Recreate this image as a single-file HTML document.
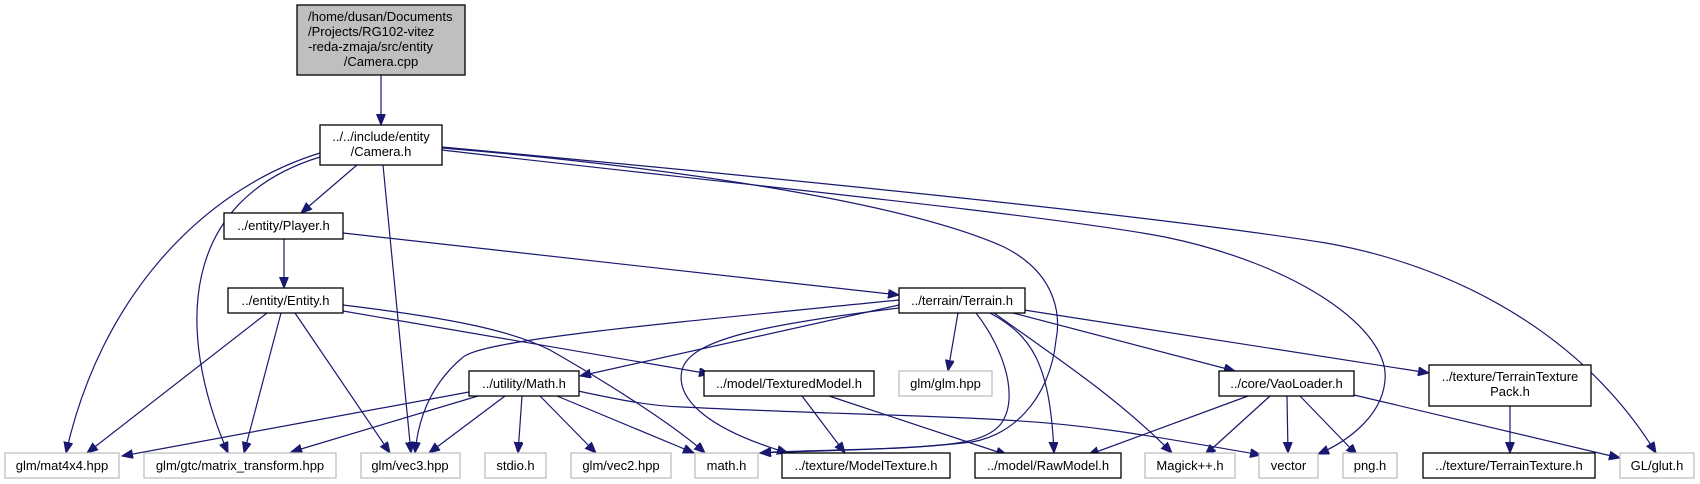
<!DOCTYPE html>
<html><head><meta charset="utf-8"><style>
html,body{margin:0;padding:0;background:#fff;}
svg{display:block;}
text{font-family:"Liberation Sans",Arial,sans-serif;font-size:13px;fill:#000;}
.e{fill:none;stroke:#191970;stroke-width:1.2;marker-end:url(#a);}
.b{fill:#fff;stroke:#000;stroke-width:1.3;}
.g{fill:#fff;stroke:#bfbfbf;stroke-width:1.3;}
</style></head><body>
<svg width="1700" height="484" viewBox="0 0 1700 484" xmlns="http://www.w3.org/2000/svg">
<defs><marker id="a" markerUnits="userSpaceOnUse" markerWidth="12" markerHeight="10" refX="11" refY="4.5" orient="auto"><path d="M0,0 L11,4.5 L0,9 Z" fill="#191970" stroke="#191970"/></marker></defs>

<!-- edges -->
<path class="e" d="M381,75 L381,125"/>
<path class="e" d="M357,165 L301,213"/>
<path class="e" d="M320,153 C200,190 100,300 66,453"/>
<path class="e" d="M320,157 C180,200 175,330 228,453"/>
<path class="e" d="M383,165 L411,453"/>
<path class="e" d="M442,148 C650,165 900,200 1004,247 C1060,275 1060,320 1056,340 C1050,400 1010,440 963,443 C900,450 800,451 760,453"/>
<path class="e" d="M442,150 C700,180 1050,215 1165,237 C1300,265 1390,330 1385,380 C1382,420 1340,445 1318,454"/>
<path class="e" d="M442,147 C800,180 1150,215 1326,243 C1450,265 1580,330 1656,453"/>
<path class="e" d="M284,239 L284,288"/>
<path class="e" d="M343,233 L899,295"/>
<path class="e" d="M267,313 L87,453"/>
<path class="e" d="M281,313 L244,453"/>
<path class="e" d="M295,313 L390,453"/>
<path class="e" d="M343,305 C450,318 510,330 550,350 C620,390 680,430 705,453"/>
<path class="e" d="M343,311 L710,374"/>
<path class="e" d="M899,305 L580,376"/>
<path class="e" d="M899,300 C650,325 480,340 462,358 C430,385 418,420 415,453"/>
<path class="e" d="M899,308 C760,325 690,340 682,370 C675,400 710,430 788,453"/>
<path class="e" d="M976,313 C1005,350 1020,400 1000,425 C985,442 955,445 900,448 C820,451 780,451 760,453"/>
<path class="e" d="M958,313 L948,371"/>
<path class="e" d="M990,313 C1030,335 1050,360 1054,453"/>
<path class="e" d="M994,313 C1060,360 1120,400 1172,453"/>
<path class="e" d="M1013,313 L1235,371"/>
<path class="e" d="M1024,310 L1429,373"/>
<path class="e" d="M469,392 L122,456"/>
<path class="e" d="M478,396 L291,452"/>
<path class="e" d="M505,396 L429,453"/>
<path class="e" d="M522,396 L518,453"/>
<path class="e" d="M540,396 L596,453"/>
<path class="e" d="M557,396 L694,453"/>
<path class="e" d="M578,391 C620,400 650,406 682,407 C800,413 950,416 1004,420 C1080,424 1130,432 1261,455"/>
<path class="e" d="M802,396 L845,453"/>
<path class="e" d="M829,396 L1007,455"/>
<path class="e" d="M1248,396 L1088,455"/>
<path class="e" d="M1270,396 L1205,455"/>
<path class="e" d="M1287,396 L1288,453"/>
<path class="e" d="M1300,396 L1357,455"/>
<path class="e" d="M1354,395 L1620,458"/>
<path class="e" d="M1510,406 L1510,453"/>

<!-- nodes -->
<rect x="297" y="5" width="168" height="70" fill="#bfbfbf" stroke="#000" stroke-width="1.3"/>
<text x="308" y="21">/home/dusan/Documents</text>
<text x="308" y="36">/Projects/RG102-vitez</text>
<text x="308" y="51">-reda-zmaja/src/entity</text>
<text x="381" y="66" text-anchor="middle">/Camera.cpp</text>

<rect class="b" x="320" y="125" width="122" height="40"/>
<text x="381" y="141" text-anchor="middle">../../include/entity</text>
<text x="381" y="156" text-anchor="middle">/Camera.h</text>

<rect class="b" x="224" y="213" width="119" height="26"/><text x="283.5" y="230" text-anchor="middle">../entity/Player.h</text>
<rect class="b" x="228" y="288" width="115" height="25"/><text x="285.5" y="305" text-anchor="middle">../entity/Entity.h</text>
<rect class="b" x="899" y="288" width="126" height="25"/><text x="962" y="305" text-anchor="middle">../terrain/Terrain.h</text>
<rect class="b" x="469" y="371" width="110" height="25"/><text x="524" y="388" text-anchor="middle">../utility/Math.h</text>
<rect class="b" x="704" y="371" width="170" height="25"/><text x="789" y="388" text-anchor="middle">../model/TexturedModel.h</text>
<rect class="g" x="899" y="371" width="93" height="25"/><text x="945.5" y="388" text-anchor="middle">glm/glm.hpp</text>
<rect class="b" x="1219" y="371" width="135" height="25"/><text x="1286.5" y="388" text-anchor="middle">../core/VaoLoader.h</text>
<rect class="b" x="1429" y="365" width="162" height="41"/>
<text x="1510" y="381" text-anchor="middle">../texture/TerrainTexture</text>
<text x="1510" y="396" text-anchor="middle">Pack.h</text>

<rect class="g" x="5" y="453" width="114" height="25"/><text x="62" y="470" text-anchor="middle">glm/mat4x4.hpp</text>
<rect class="g" x="144" y="453" width="192" height="25"/><text x="240" y="470" text-anchor="middle">glm/gtc/matrix_transform.hpp</text>
<rect class="g" x="361" y="453" width="99" height="25"/><text x="410" y="470" text-anchor="middle">glm/vec3.hpp</text>
<rect class="g" x="485" y="453" width="61" height="25"/><text x="515.5" y="470" text-anchor="middle">stdio.h</text>
<rect class="g" x="571" y="453" width="100" height="25"/><text x="621" y="470" text-anchor="middle">glm/vec2.hpp</text>
<rect class="g" x="695" y="453" width="63" height="25"/><text x="726.5" y="470" text-anchor="middle">math.h</text>
<rect class="b" x="782" y="453" width="168" height="25"/><text x="866" y="470" text-anchor="middle">../texture/ModelTexture.h</text>
<rect class="b" x="975" y="453" width="146" height="25"/><text x="1048" y="470" text-anchor="middle">../model/RawModel.h</text>
<rect class="g" x="1145" y="453" width="90" height="25"/><text x="1190" y="470" text-anchor="middle">Magick++.h</text>
<rect class="g" x="1259" y="453" width="59" height="25"/><text x="1288.5" y="470" text-anchor="middle">vector</text>
<rect class="g" x="1343" y="453" width="54" height="25"/><text x="1370" y="470" text-anchor="middle">png.h</text>
<rect class="b" x="1423" y="453" width="172" height="25"/><text x="1509" y="470" text-anchor="middle">../texture/TerrainTexture.h</text>
<rect class="g" x="1620" y="453" width="74" height="25"/><text x="1657" y="470" text-anchor="middle">GL/glut.h</text>
</svg>
</body></html>
